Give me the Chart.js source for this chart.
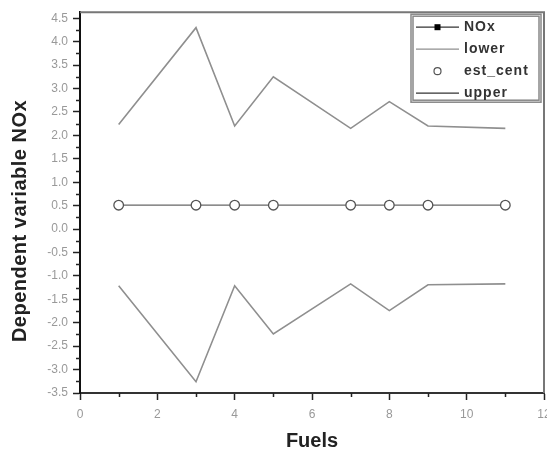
<!DOCTYPE html>
<html>
<head>
<meta charset="utf-8">
<script src="https://cdn.jsdelivr.net/npm/chart.js@4/dist/chart.umd.min.js"></script>
<style>
html, body { margin: 0; padding: 0; background: #fff; }
</style>
</head>
<body>
<canvas id="myChart" width="547" height="454"></canvas>
<script>
// confidence band around the estimated centre, per fuel
const fuels = [1, 3, 4, 5, 7, 8, 9, 11];
const nox = [0.51, 0.51, 0.51, 0.51, 0.51, 0.51, 0.51, 0.51];
const estCent = [0.51, 0.51, 0.51, 0.51, 0.51, 0.51, 0.51, 0.51];
const lower = [-1.21, -3.26, -1.21, -2.24, -1.17, -1.74, -1.19, -1.17];
const upper = [2.23, 4.3, 2.2, 3.25, 2.15, 2.72, 2.2, 2.15];
const yTitle = 'Dependent variable NOx';

const FONT = '"Liberation Sans", Arial, sans-serif';

function pts(vals) {
    return fuels.map(function (f, i) {
        return { x: f, y: vals[i] };
    });
}

// minor ticks between the labelled ones, top/right frame, y title
const frame = {
    id: 'frame',
    afterDraw: function (chart) {
        const ctx = chart.ctx;
        const a = chart.chartArea;
        const xs = chart.scales.x, ys = chart.scales.y;
        ctx.save();
        ctx.strokeStyle = '#777';
        ctx.lineWidth = 2;
        ctx.beginPath();
        ctx.moveTo(a.left, a.top);
        ctx.lineTo(a.right, a.top);
        ctx.lineTo(a.right, a.bottom);
        ctx.stroke();

        ctx.strokeStyle = '#222';
        ctx.lineWidth = 1.5;
        ctx.beginPath();
        for (let v = -3.25; v < 4.6; v += 0.5) {
            const py = Math.round(ys.getPixelForValue(v)) + 0.5;
            ctx.moveTo(a.left - 4, py);
            ctx.lineTo(a.left, py);
        }
        for (let v = 1; v < 12; v += 2) {
            const px = Math.round(xs.getPixelForValue(v)) + 0.5;
            ctx.moveTo(px, a.bottom);
            ctx.lineTo(px, a.bottom + 4);
        }
        ctx.stroke();

        // rotated axis title, a bit below the middle of the axis
        ctx.translate(20, 221);
        ctx.rotate(-Math.PI / 2);
        ctx.font = 'bold 20px ' + FONT;
        ctx.fillStyle = '#222';
        ctx.textAlign = 'center';
        ctx.textBaseline = 'middle';
        ctx.letterSpacing = '0.5px';
        ctx.fillText(yTitle, 0, 0);
        ctx.restore();
    }
};

// boxed legend with line samples, drawn inside the top right corner
const boxLegend = {
    id: 'boxLegend',
    afterDraw: function (chart) {
        const ctx = chart.ctx;
        const a = chart.chartArea;
        const x0 = a.right - 133, y0 = a.top + 2, w = 130, h = 88;
        ctx.save();
        ctx.fillStyle = '#fff';
        ctx.fillRect(x0, y0, w, h);
        ctx.strokeStyle = '#888';
        ctx.lineWidth = 1.5;
        ctx.strokeRect(x0, y0, w, h);
        ctx.strokeRect(x0 + 2, y0 + 2, w - 4, h - 4);

        const rows = chart.data.datasets;
        ctx.font = 'bold 14px ' + FONT;
        ctx.letterSpacing = '1px';
        ctx.textBaseline = 'middle';
        rows.forEach(function (ds, i) {
            const y = y0 + 13 + i * 22;
            const lx = x0 + 5, rx = x0 + 48;
            if (ds.showLine) {
                ctx.strokeStyle = ds.legendColor;
                ctx.lineWidth = 1.2;
                ctx.beginPath();
                ctx.moveTo(lx, y);
                ctx.lineTo(rx, y);
                ctx.stroke();
            }
            if (ds.label === 'NOx') {
                ctx.fillStyle = '#000';
                ctx.fillRect((lx + rx) / 2 - 3, y - 3, 6, 6);
            }
            if (ds.label === 'est_cent') {
                ctx.strokeStyle = '#555';
                ctx.lineWidth = 1.2;
                ctx.beginPath();
                ctx.arc((lx + rx) / 2, y, 3.5, 0, Math.PI * 2);
                ctx.stroke();
            }
            ctx.fillStyle = '#333';
            ctx.fillText(ds.label, rx + 5, y);
        });
        ctx.restore();
    }
};

const ctx = document.querySelector('#myChart').getContext('2d');
new Chart(ctx, {
    type: 'scatter',
    data: {
        datasets: [{
            label: 'NOx',
            data: pts(nox),
            showLine: true,
            borderColor: '#666',
            legendColor: '#333',
            borderWidth: 1.3,
            pointRadius: 0,
            order: 2
        }, {
            label: 'lower',
            data: pts(lower),
            showLine: true,
            borderColor: '#8f8f8f',
            legendColor: '#8f8f8f',
            borderWidth: 1.6,
            pointRadius: 0,
            order: 2
        }, {
            label: 'est_cent',
            data: pts(estCent),
            showLine: false,
            pointStyle: 'circle',
            pointRadius: 4.8,
            pointBorderWidth: 1.3,
            pointBorderColor: '#555',
            pointBackgroundColor: '#fff',
            order: 0
        }, {
            label: 'upper',
            data: pts(upper),
            showLine: true,
            borderColor: '#8f8f8f',
            legendColor: '#333',
            borderWidth: 1.6,
            pointRadius: 0,
            order: 2
        }]
    },
    options: {
        responsive: false,
        animation: false,
        // the last x label ("12") is allowed to run off the right edge
        layout: { autoPadding: false, padding: { top: 10, right: 3 } },
        plugins: {
            legend: { display: false },
            tooltip: { enabled: false }
        },
        scales: {
            x: {
                type: 'linear',
                min: 0,
                max: 12,
                afterFit: function (s) {
                    s.height = 61;
                    s.paddingLeft = 0;
                    s.paddingRight = 0;
                },
                border: { color: '#333', width: 2 },
                grid: { drawOnChartArea: false, tickLength: 7, tickColor: '#222', tickWidth: 1.5 },
                ticks: {
                    stepSize: 2,
                    padding: 7,
                    color: '#999',
                    font: { family: FONT, size: 12 }
                },
                title: {
                    display: true,
                    text: 'Fuels',
                    color: '#222',
                    padding: { top: 0, bottom: 1 },
                    font: { family: FONT, size: 20, weight: 'bold' }
                }
            },
            y: {
                min: -3.5,
                max: 4.63,
                afterFit: function (s) { s.width = 80; },
                border: { color: '#111', width: 2 },
                grid: { drawOnChartArea: false, tickLength: 7, tickColor: '#222', tickWidth: 1.5 },
                ticks: {
                    stepSize: 0.5,
                    includeBounds: false,
                    padding: 5,
                    color: '#999',
                    font: { family: FONT, size: 12 },
                    callback: function (v) { return v.toFixed(1); }
                }
            }
        }
    },
    plugins: [frame, boxLegend]
});
</script>
</body>
</html>
